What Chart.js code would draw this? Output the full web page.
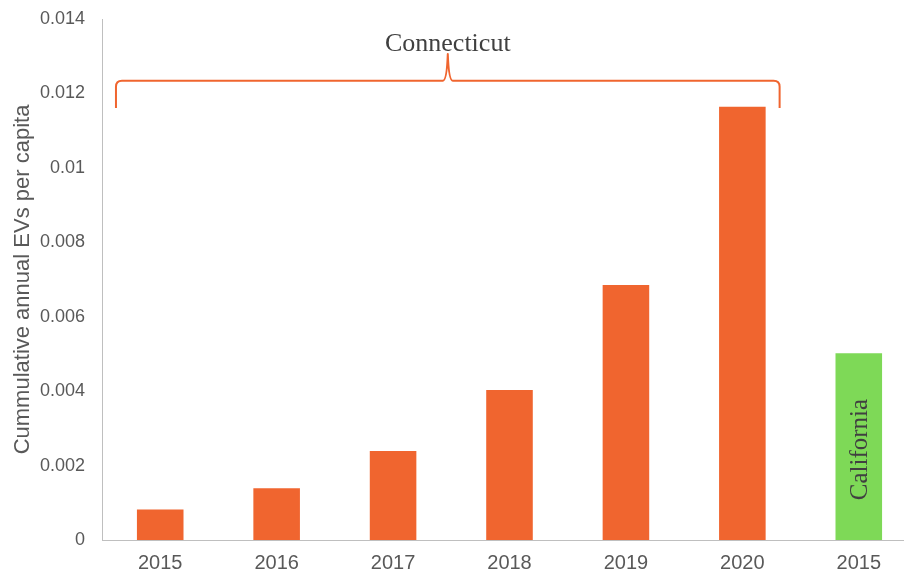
<!DOCTYPE html>
<html>
<head>
<meta charset="utf-8">
<script src="https://cdn.jsdelivr.net/npm/chart.js@4"></script>
<style>
  html, body { margin: 0; padding: 0; background: #fff; overflow: hidden; }
  #wrap { position: relative; width: 917px; height: 573px; }
</style>
</head>
<body>
<div id="wrap"><canvas id="chart"></canvas></div>
<script>
// Chart data
const years = ["2015", "2016", "2017", "2018", "2019", "2020", "2015"];
const regions = ["Connecticut", "Connecticut", "Connecticut", "Connecticut", "Connecticut", "Connecticut", "California"];
const evsPerCapita = [0.00082, 0.00139, 0.00239, 0.00403, 0.00685, 0.01164, 0.00502];
const yTicks = [0, 0.002, 0.004, 0.006, 0.008, 0.01, 0.012, 0.014];

const ORANGE = "#F0652F";
const GREEN = "#7ED957";
const AXIS_COLOR = "#BFBFBF";
const LABEL_COLOR = "#595959";
const NOTE_COLOR = "#404040";
const SERIF = "'Liberation Serif', 'DejaVu Serif', serif";
const SANS = "'Liberation Sans', Arial, sans-serif";

const barColors = regions.map((r) => (r === "California" ? GREEN : ORANGE));

// Draws the Connecticut brace and the in-bar California label
const notesPlugin = {
    id: "notes",
    afterDatasetsDraw(chart) {
        const ctx = chart.ctx;
        const xs = chart.scales.x;
        const ys = chart.scales.y;
        const catW = xs.getPixelForValue(1) - xs.getPixelForValue(0);

        // brace over the Connecticut bars
        const ctIdx = regions.map((r, i) => (r === "Connecticut" ? i : -1)).filter((i) => i >= 0);
        const x0 = xs.getPixelForValue(ctIdx[0]) - 0.38 * catW;
        const x1 = xs.getPixelForValue(ctIdx[ctIdx.length - 1]) + 0.32 * catW;
        const xm = (x0 + x1) / 2;
        const yLine = ys.getPixelForValue(0.01234);
        const yEnd = ys.getPixelForValue(0.01161);
        const yTip = ys.getPixelForValue(0.01306);
        const r = 6;

        ctx.save();
        ctx.strokeStyle = ORANGE;
        ctx.lineWidth = 2;
        ctx.lineJoin = "round";
        ctx.beginPath();
        ctx.moveTo(x0, yEnd);
        ctx.lineTo(x0, yLine + r);
        ctx.quadraticCurveTo(x0, yLine, x0 + r, yLine);
        ctx.lineTo(xm - 5, yLine);
        ctx.quadraticCurveTo(xm - 1, yLine, xm, yTip);
        ctx.quadraticCurveTo(xm + 1, yLine, xm + 5, yLine);
        ctx.lineTo(x1 - r, yLine);
        ctx.quadraticCurveTo(x1, yLine, x1, yLine + r);
        ctx.lineTo(x1, yEnd);
        ctx.stroke();

        ctx.fillStyle = NOTE_COLOR;
        ctx.font = "26px " + SERIF;
        ctx.textAlign = "center";
        ctx.textBaseline = "alphabetic";
        ctx.fillText("Connecticut", xm, yTip - 3);

        // California label inside its bar
        const caIdx = regions.indexOf("California");
        const bar = chart.getDatasetMeta(0).data[caIdx];
        ctx.translate(bar.x + 8, (bar.y + bar.base) / 2 + 3);
        ctx.rotate(-Math.PI / 2);
        ctx.font = "25px " + SERIF;
        ctx.fillText("California", 0, 0);
        ctx.restore();
    },
};

new Chart(document.getElementById("chart"), {
    type: "bar",
    data: {
        labels: years,
        datasets: [
            {
                data: evsPerCapita,
                backgroundColor: barColors,
                borderWidth: 0,
                categoryPercentage: 1,
                barPercentage: 0.4,
            },
        ],
    },
    options: {
        responsive: true,
        maintainAspectRatio: false,
        animation: false,
        layout: { padding: { top: 19, right: 0, bottom: 0, left: 0 } },
        plugins: {
            legend: { display: false },
            tooltip: { enabled: false },
        },
        scales: {
            x: {
                grid: { display: false, drawTicks: false },
                border: { display: true, color: AXIS_COLOR, width: 1 },
                ticks: { color: LABEL_COLOR, font: { family: SANS, size: 20 }, padding: 11, maxRotation: 0 },
                afterFit: (axis) => {
                    axis.height = 33;
                },
            },
            y: {
                min: 0,
                max: 0.014,
                afterBuildTicks: (axis) => {
                    axis.ticks = yTicks.map((v) => ({ value: v }));
                },
                afterFit: (axis) => {
                    axis.width = 102;
                },
                grid: { display: false, drawTicks: true, tickLength: 14 },
                border: { display: true, color: AXIS_COLOR, width: 1 },
                ticks: {
                    color: LABEL_COLOR,
                    font: { family: SANS, size: 18 },
                    padding: 3,
                    callback: (v) => String(parseFloat(Number(v).toFixed(3))),
                },
                title: {
                    display: true,
                    text: "Cummulative annual EVs per capita",
                    color: LABEL_COLOR,
                    font: { family: SANS, size: 22 },
                    padding: { top: 10, bottom: 0 },
                },
            },
        },
    },
    plugins: [notesPlugin],
});
</script>
</body>
</html>
